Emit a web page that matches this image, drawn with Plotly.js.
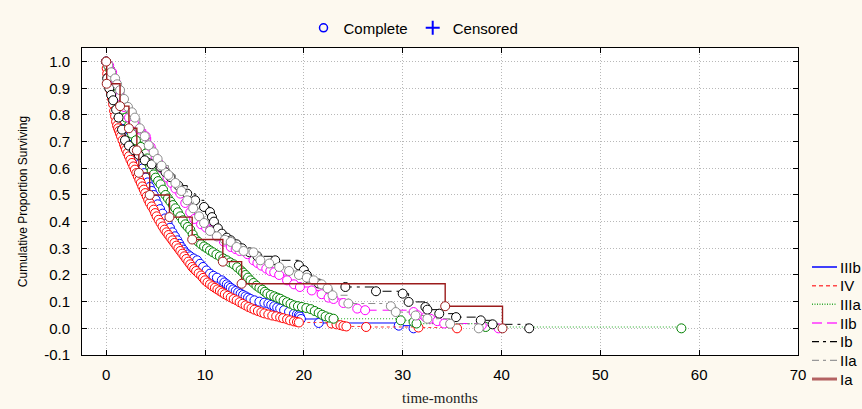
<!DOCTYPE html>
<html>
<head>
<meta charset="utf-8">
<script src="https://cdn.plot.ly/plotly-3.0.1.min.js"></script>
<style>html,body{margin:0;padding:0;background:#FDF9EF;}#chart{width:862px;height:409px;}</style>
</head>
<body>
<div id="chart"></div>
<script>
// ---- Data ----
var groupNames = ["IIIb", "IV", "IIIa", "IIb", "Ib", "IIa", "Ia"];

var iiibT = [0, 0.2, 0.4, 0.6, 0.9, 1.2, 1.5, 1.8, 2.1, 2.4, 2.7, 3.0, 3.15, 3.3, 3.5, 3.7, 3.85, 4.0, 4.2, 4.4, 4.6, 4.8, 5.0, 5.2, 5.45, 5.7, 5.95, 6.2, 6.45, 6.7, 6.95, 7.2, 7.4, 7.6, 7.8, 8.0, 8.25, 8.5, 8.85, 9.2, 9.5, 9.8, 10.15, 10.5, 10.85, 11.2, 11.7, 11.95, 12.2, 12.4, 12.6, 12.85, 13.1, 13.35, 13.6, 13.85, 14.1, 14.35, 14.6, 15.0, 15.5, 16.0, 16.4, 16.7, 17.0, 17.3, 17.6, 18.0, 18.5, 19.0, 19.3, 19.5, 19.6, 19.7, 21.5, 29.6, 31.1];
var iiibS = [1.0, 0.975, 0.95, 0.92, 0.885, 0.85, 0.815, 0.78, 0.75, 0.72, 0.69, 0.665, 0.652, 0.64, 0.62, 0.60, 0.582, 0.565, 0.547, 0.53, 0.515, 0.50, 0.482, 0.465, 0.447, 0.43, 0.412, 0.395, 0.377, 0.36, 0.345, 0.33, 0.317, 0.305, 0.295, 0.285, 0.277, 0.27, 0.262, 0.255, 0.242, 0.23, 0.217, 0.205, 0.197, 0.19, 0.18, 0.172, 0.165, 0.158, 0.152, 0.146, 0.14, 0.135, 0.13, 0.125, 0.12, 0.115, 0.11, 0.105, 0.10, 0.096, 0.093, 0.088, 0.083, 0.078, 0.074, 0.068, 0.062, 0.055, 0.052, 0.049, 0.044, 0.035, 0.02, 0.01, 0.0];

var ivT = [0, 0.05, 0.1, 0.15, 0.2, 0.3, 0.4, 0.5, 0.6, 0.7, 0.8, 0.9, 1.0, 1.1, 1.2, 1.3, 1.4, 1.5, 1.65, 1.8, 1.9, 2.0, 2.15, 2.3, 2.45, 2.6, 2.75, 2.9, 3.05, 3.2, 3.35, 3.5, 3.65, 3.8, 3.95, 4.1, 4.25, 4.4, 4.6, 4.8, 4.95, 5.1, 5.3, 5.5, 5.7, 5.9, 6.1, 6.3, 6.5, 6.7, 6.9, 7.1, 7.3, 7.5, 7.7, 7.9, 8.1, 8.3, 8.5, 8.7, 8.9, 9.1, 9.35, 9.6, 9.8, 10.0, 10.25, 10.5, 10.75, 11.0, 11.25, 11.5, 11.75, 12.0, 12.3, 12.6, 12.9, 13.2, 13.5, 13.8, 14.1, 14.4, 14.7, 15.0, 15.35, 15.7, 16.0, 16.4, 16.8, 17.2, 17.6, 17.9, 18.3, 18.6, 19.0, 19.3, 19.5, 22.8, 23.3, 23.7, 24.0, 24.3, 26.3, 31.6, 35.5];
var ivS = [1.0, 0.975, 0.955, 0.94, 0.925, 0.91, 0.895, 0.88, 0.86, 0.84, 0.815, 0.795, 0.775, 0.76, 0.75, 0.74, 0.73, 0.72, 0.705, 0.69, 0.68, 0.67, 0.657, 0.645, 0.632, 0.62, 0.607, 0.595, 0.582, 0.57, 0.557, 0.545, 0.532, 0.52, 0.507, 0.495, 0.482, 0.47, 0.457, 0.445, 0.432, 0.42, 0.407, 0.395, 0.382, 0.37, 0.36, 0.35, 0.34, 0.33, 0.32, 0.31, 0.30, 0.29, 0.28, 0.27, 0.26, 0.25, 0.24, 0.23, 0.222, 0.215, 0.206, 0.198, 0.189, 0.18, 0.172, 0.165, 0.158, 0.152, 0.146, 0.14, 0.134, 0.128, 0.122, 0.116, 0.11, 0.105, 0.098, 0.092, 0.086, 0.08, 0.075, 0.07, 0.065, 0.06, 0.056, 0.052, 0.048, 0.045, 0.041, 0.038, 0.034, 0.03, 0.026, 0.024, 0.022, 0.018, 0.015, 0.012, 0.009, 0.007, 0.005, 0.003, 0.0];

var iiiaT = [0, 0.2, 0.4, 0.6, 0.8, 1.1, 1.4, 1.7, 2.0, 2.3, 2.6, 3.0, 3.5, 4.0, 4.15, 4.3, 4.45, 4.6, 4.8, 5.0, 5.25, 5.5, 5.75, 6.0, 6.25, 6.5, 6.75, 7.0, 7.25, 7.5, 7.75, 8.0, 8.25, 8.5, 8.75, 9.0, 9.3, 9.6, 9.9, 10.2, 10.5, 10.8, 11.15, 11.5, 11.85, 12.2, 12.55, 12.9, 13.25, 13.6, 13.85, 14.1, 14.35, 14.6, 14.9, 15.2, 15.5, 15.8, 16.05, 16.3, 16.65, 17.0, 17.3, 17.6, 17.95, 18.3, 18.65, 19.0, 19.4, 19.8, 20.25, 20.7, 21.1, 21.5, 21.85, 22.2, 22.6, 23.0, 29.8, 31.1, 31.4, 38.4, 58.2];
var iiiaS = [1.0, 0.985, 0.97, 0.94, 0.91, 0.88, 0.85, 0.82, 0.79, 0.76, 0.73, 0.705, 0.68, 0.655, 0.637, 0.62, 0.605, 0.59, 0.577, 0.565, 0.552, 0.54, 0.52, 0.50, 0.487, 0.475, 0.462, 0.45, 0.435, 0.42, 0.405, 0.39, 0.38, 0.37, 0.352, 0.335, 0.325, 0.315, 0.307, 0.30, 0.292, 0.285, 0.277, 0.27, 0.262, 0.255, 0.247, 0.24, 0.229, 0.218, 0.209, 0.20, 0.19, 0.18, 0.17, 0.16, 0.152, 0.145, 0.137, 0.13, 0.125, 0.12, 0.115, 0.111, 0.104, 0.098, 0.092, 0.086, 0.083, 0.08, 0.076, 0.072, 0.065, 0.058, 0.051, 0.045, 0.04, 0.036, 0.03, 0.024, 0.018, 0.005, 0.0];

var iibT = [0, 0.3, 0.6, 1.0, 1.4, 1.8, 2.3, 2.8, 3.4, 4.0, 4.5, 5.0, 5.3, 5.6, 6.2, 6.6, 7.0, 7.5, 8.0, 8.5, 8.9, 9.6, 10.1, 10.5, 11.2, 11.9, 12.6, 13.1, 13.5, 14.3, 14.9, 15.3, 15.7, 16.2, 16.6, 17.0, 17.5, 18.3, 19.0, 19.6, 20.8, 21.8, 22.5, 23.0, 24.0, 25.4, 26.2, 31.1, 31.5, 32.3, 32.8, 33.5, 34.2, 38.0, 39.7];
var iibS = [1.0, 0.985, 0.96, 0.92, 0.87, 0.83, 0.79, 0.77, 0.745, 0.72, 0.68, 0.64, 0.62, 0.60, 0.565, 0.545, 0.524, 0.505, 0.47, 0.435, 0.41, 0.39, 0.378, 0.368, 0.345, 0.325, 0.305, 0.297, 0.29, 0.278, 0.255, 0.245, 0.235, 0.224, 0.215, 0.21, 0.20, 0.18, 0.165, 0.155, 0.142, 0.128, 0.115, 0.11, 0.095, 0.074, 0.068, 0.061, 0.049, 0.042, 0.036, 0.027, 0.018, 0.011, 0.0];

var ibT = [0, 0.1, 0.3, 0.5, 0.7, 1.0, 1.25, 1.6, 1.9, 2.3, 2.8, 3.3, 3.9, 4.6, 5.5, 6.0, 6.5, 7.3, 8.2, 9.0, 9.9, 10.5, 10.7, 10.9, 11.3, 11.7, 12.2, 12.6, 13.2, 13.75, 14.5, 15.3, 17.1, 19.5, 20.0, 20.3, 20.5, 21.5, 24.2, 27.3, 30.0, 30.6, 32.3, 32.5, 33.7, 35.4, 37.9, 39.1, 42.8];
var ibS = [1.0, 0.937, 0.90, 0.875, 0.855, 0.82, 0.79, 0.745, 0.705, 0.685, 0.668, 0.65, 0.63, 0.615, 0.605, 0.585, 0.567, 0.535, 0.505, 0.48, 0.455, 0.436, 0.417, 0.40, 0.375, 0.355, 0.34, 0.33, 0.315, 0.30, 0.285, 0.27, 0.255, 0.236, 0.218, 0.20, 0.186, 0.168, 0.155, 0.139, 0.13, 0.099, 0.08, 0.07, 0.055, 0.042, 0.03, 0.015, 0.0];

var iiaT = [0, 0.2, 0.5, 0.9, 1.1, 1.4, 1.8, 2.2, 2.6, 2.9, 3.4, 3.9, 4.3, 4.8, 5.2, 5.6, 6.3, 7.0, 7.6, 8.2, 8.8, 9.4, 9.9, 10.5, 11.2, 12.0, 12.6, 13.2, 13.9, 14.9, 15.6, 16.5, 17.5, 18.5, 19.5, 20.3, 21.0, 21.8, 22.4, 22.9, 24.5, 28.8, 29.3, 31.3, 32.5, 34.8, 37.7];
var iiaS = [1.0, 0.987, 0.96, 0.937, 0.915, 0.893, 0.86, 0.83, 0.81, 0.79, 0.75, 0.72, 0.686, 0.66, 0.635, 0.61, 0.575, 0.545, 0.515, 0.48, 0.45, 0.42, 0.395, 0.365, 0.345, 0.332, 0.324, 0.305, 0.29, 0.285, 0.255, 0.243, 0.23, 0.215, 0.20, 0.19, 0.18, 0.165, 0.15, 0.124, 0.093, 0.083, 0.061, 0.048, 0.036, 0.017, 0.0];

var iaT = [0, 0.05, 1.4, 2.3, 3.1, 3.3, 4.4, 6.4, 8.7, 11.8, 13.7, 34.3, 40.1];
var iaS = [1.0, 0.917, 0.833, 0.75, 0.667, 0.583, 0.50, 0.417, 0.333, 0.25, 0.167, 0.083, 0.0];

var xTicks = [0, 10, 20, 30, 40, 50, 60, 70];
var yTicks = [-0.1, 0.0, 0.1, 0.2, 0.3, 0.4, 0.5, 0.6, 0.7, 0.8, 0.9, 1.0];
var topLegendLabels = ["Complete", "Censored"];

// ---- Styles ----
var styles = [
  {line: "#0000FF", mk: "#0000FF", dash: "solid", w: 1},
  {line: "#FF3B3B", mk: "#FF0000", dash: "3px,3px", w: 1},
  {line: "#22AA22", mk: "#008000", dash: "1px,2px", w: 1.2},
  {line: "#FF00FF", mk: "#FF00FF", dash: "9px,6px", w: 1},
  {line: "#000000", mk: "#000000", dash: "9px,5px,3px,5px", w: 1},
  {line: "#8C8C8C", mk: "#8C8C8C", dash: "7px,4px,3px,4px", w: 1},
  {line: "#9B1C1C", mk: "#9B1C1C", dash: "solid", w: 1.4}
];
var legendStyles = [
  {c: "#0000FF", dash: "solid", w: 1.5},
  {c: "#FF4A4A", dash: "4px,3px", w: 1.5},
  {c: "#33AA33", dash: "1px,1.5px", w: 1.5},
  {c: "#FF33FF", dash: "10px,5px", w: 1.5},
  {c: "#000000", dash: "7px,4px,3px,4px", w: 1.3},
  {c: "#999999", dash: "7px,4px,3px,4px", w: 1.3},
  {c: "#B46262", dash: "solid", w: 3}
];
var series = [[iiibT, iiibS], [ivT, ivS], [iiiaT, iiiaS], [iibT, iibS], [ibT, ibS], [iiaT, iiaS], [iaT, iaS]];

var traces = [];
series.forEach(function (s, i) {
  traces.push({
    x: s[0], y: s[1], type: "scatter", mode: "lines+markers",
    line: {shape: "hv", color: styles[i].line, dash: styles[i].dash, width: styles[i].w},
    marker: {symbol: "circle", size: 9, color: "#FFFFFF", line: {color: styles[i].mk, width: 1}},
    showlegend: false, hoverinfo: "skip", name: groupNames[i]
  });
});
// top legend
traces.push({x: [null], y: [null], type: "scatter", mode: "markers", name: topLegendLabels[0], legend: "legend2",
  marker: {symbol: "circle-open", size: 8, color: "#0000FF", line: {width: 1.5}}});
traces.push({x: [null], y: [null], type: "scatter", mode: "markers", name: topLegendLabels[1], legend: "legend2",
  marker: {symbol: "cross-thin-open", size: 10, color: "#0000FF", line: {width: 2, color: "#0000FF"}}});

// right-hand legend (lines + labels), placed in paper coordinates
var plotL = 82, plotR = 798, plotT = 48, plotB = 355;
function px2x(p) { return (p - plotL) / (plotR - plotL); }
function px2y(p) { return (plotB - p) / (plotB - plotT); }
var shapes = [], annotations = [];
groupNames.forEach(function (n, i) {
  var yc = 267 + i * 18.67;
  shapes.push({type: "line", xref: "paper", yref: "paper", x0: px2x(812), x1: px2x(837), y0: px2y(yc), y1: px2y(yc),
    line: {color: legendStyles[i].c, dash: legendStyles[i].dash, width: legendStyles[i].w}});
  annotations.push({xref: "paper", yref: "paper", x: px2x(838), y: px2y(yc), xanchor: "left", yanchor: "middle",
    text: n, showarrow: false, font: {size: 15, color: "#000"}});
});

var layout = {
  width: 862, height: 409,
  paper_bgcolor: "#FDF9EF", plot_bgcolor: "#FFFFFF",
  margin: {l: plotL, r: 862 - plotR, t: plotT, b: 409 - plotB, autoexpand: false},
  font: {family: "Liberation Sans, Arial, sans-serif", size: 15, color: "#000"},
  xaxis: {
    range: [-2.45, 70], tickvals: xTicks, ticktext: xTicks.map(String),
    ticks: "inside", ticklen: 5, tickcolor: "#000", mirror: "ticks",
    showline: true, linecolor: "#000", linewidth: 1,
    showgrid: true, gridcolor: "#B8B8B8", griddash: "1px,2px", gridwidth: 1, zeroline: false,
    ticklabelstandoff: 6, tickfont: {size: 15},
    title: {text: "time-months", font: {family: "Liberation Serif, Times New Roman, serif", size: 15, color: "#222"}, standoff: 10}
  },
  yaxis: {
    range: [-0.1, 1.051], tickvals: yTicks, ticktext: yTicks.map(function (v) { return v.toFixed(1); }),
    ticks: "inside", ticklen: 5, tickcolor: "#000", mirror: "ticks",
    showline: true, linecolor: "#000", linewidth: 1,
    showgrid: true, gridcolor: "#B8B8B8", griddash: "1px,2px", gridwidth: 1, zeroline: false,
    ticklabelstandoff: 8, tickfont: {size: 15},
    title: {text: "Cumulative Proportion Surviving", font: {size: 12}, standoff: 13}
  },
  legend2: {
    orientation: "h", x: 0.463, y: 1.065, xanchor: "center", yanchor: "middle",
    bgcolor: "rgba(0,0,0,0)", font: {size: 15}, itemwidth: 30
  },
  shapes: shapes,
  annotations: annotations,
  showlegend: true
};

Plotly.newPlot("chart", traces, layout, {displayModeBar: false, staticPlot: true});
</script>
</body>
</html>
